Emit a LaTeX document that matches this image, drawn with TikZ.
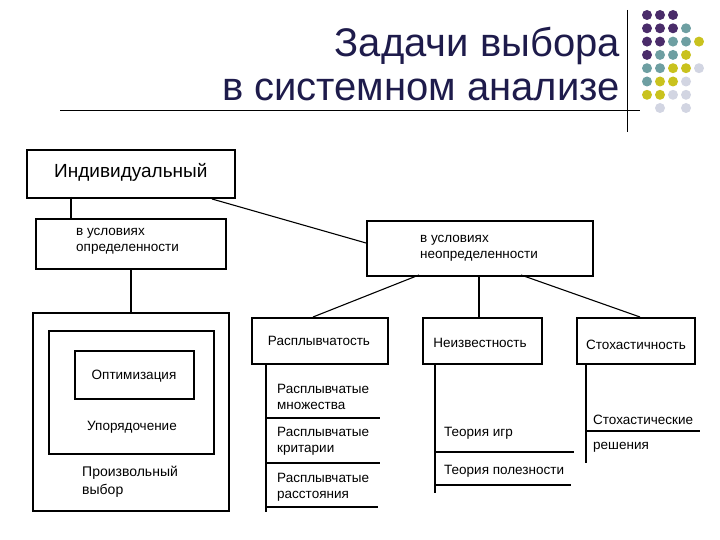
\documentclass[tikz,border=0pt]{standalone}
\usepackage{fontspec}
\setmainfont{Liberation Sans}
\definecolor{dp}{HTML}{4A2C6A}
\definecolor{dt}{HTML}{6E9FA2}
\definecolor{dy}{HTML}{C9C21E}
\definecolor{dl}{HTML}{D2D5E2}
\definecolor{ttl}{HTML}{1E1B4B}
\begin{document}
\begin{tikzpicture}[x=1pt,y=-1pt,
  bx/.style={draw,line width=1.6pt},
  ln/.style={line width=1.1pt},
  lab/.style={font=\fontsize{13.5}{16}\selectfont,anchor=west,align=left,inner sep=0pt},
  bt/.style={font=\fontsize{13.5}{15}\selectfont},
  dot/.style={circle,inner sep=0pt,minimum size=10pt}]
\useasboundingbox (0,0) rectangle (720,540);
% title
\node[anchor=east,align=right,text=ttl,font=\fontsize{40}{44}\selectfont,inner sep=0pt] (title) at (620,64) {Задачи выбора\\в системном анализе};
\draw[line width=0.6pt] (60,110) -- (640,110);
\draw[line width=0.6pt] (627,10) -- (627,132);
% dots
\foreach \r/\cols in {0/{dp,dp,dp},1/{dp,dp,dp,dt},2/{dp,dp,dt,dt,dy},3/{dp,dt,dt,dy},4/{dt,dt,dy,dy,dl},5/{dt,dy,dy,dl},6/{dy,dy,dl,dl}}{
  \foreach \c [count=\i from 0] in \cols {
    \node[dot,fill=\c] (d\r\i) at (647+13*\i,15+13.3*\r) {};
  }}
\node[dot,fill=dl] (d71) at (660,108) {};
\node[dot,fill=dl] (d73) at (686,108) {};
% boxes
\node[bx,line width=2.4pt,minimum width=208pt,minimum height=48pt,anchor=north west] (ind) at (26,149) {};
\node[font=\fontsize{19}{21}\selectfont,anchor=west,inner sep=0pt] (indt) at (54,172) {Индивидуальный};
\node[bx,minimum width=190pt,minimum height=50pt,anchor=north west] (opr) at (35,218) {};
\node[lab] (oprt) at (76,241) {в условиях\\определенности};
\node[bx,minimum width=226pt,minimum height=55pt,anchor=north west] (neo) at (366,220) {};
\node[lab] (neot) at (420,248) {в условиях\\неопределенности};
\node[bx,minimum width=196pt,minimum height=198pt,anchor=north west] (big) at (32,312) {};
\node[bx,minimum width=165pt,minimum height=123pt,anchor=north west] (mid) at (48,330) {};
\node[bx,minimum width=119pt,minimum height=48pt,anchor=north west] (inn) at (74,350) {};
\node[bt] (opt) at (134,376) {Оптимизация};
\node[bt] (upo) at (132,427) {Упорядочение};
\node[lab,font=\fontsize{14}{18}\selectfont] (pro) at (82,482) {Произвольный\\выбор};
\node[bx,minimum width=136pt,minimum height=46pt,anchor=north west] (ras) at (251,317) {};
\node[bt] (rast) at (319,341) {Расплывчатость};
\node[bx,minimum width=119pt,minimum height=46pt,anchor=north west] (nei) at (422,317) {};
\node[bt] (neit) at (480,343) {Неизвестность};
\node[bx,minimum width=118pt,minimum height=46pt,anchor=north west] (sto) at (576,317) {};
\node[bt] (stot) at (636,345) {Стохастичность};
% connectors
\coordinate (a1) at (71,197); \coordinate (a2) at (71,218);
\draw[ln] (a1) -- (a2);
\coordinate (b1) at (212,199); \coordinate (b2) at (366,243);
\draw[ln] (b1) -- (b2);
\coordinate (c1) at (131,268); \coordinate (c2) at (131,312);
\draw[ln] (c1) -- (c2);
\coordinate (e1) at (419,275); \coordinate (e2) at (313,317);
\draw[ln] (e1) -- (e2);
\coordinate (f1) at (479,275); \coordinate (f2) at (479,317);
\draw[ln] (f1) -- (f2);
\coordinate (g1) at (521,275); \coordinate (g2) at (640,317);
\draw[ln] (g1) -- (g2);
% fuzzy column
\coordinate (r0) at (266,363); \coordinate (r1) at (266,512);
\draw[ln] (r0) -- (r1);
\node[lab] (r1t) at (277,397) {Расплывчатые\\множества};
\coordinate (rl1) at (380,418); \draw[ln] (266,418) -- (rl1);
\node[lab] (r2t) at (277,441) {Расплывчатые\\критарии};
\coordinate (rl2) at (380,463); \draw[ln] (266,463) -- (rl2);
\node[lab] (r3t) at (277,487) {Расплывчатые\\расстояния};
\coordinate (rl3) at (378,507); \draw[ln] (266,507) -- (rl3);
% unknown column
\coordinate (n0) at (435,363); \coordinate (n1) at (435,493);
\draw[ln] (n0) -- (n1);
\node[lab] (n1t) at (444,433) {Теория игр};
\coordinate (nl1) at (574,452); \draw[ln] (435,452) -- (nl1);
\node[lab] (n2t) at (444,471) {Теория полезности};
\coordinate (nl2) at (571,485); \draw[ln] (435,485) -- (nl2);
% stochastic column
\coordinate (s0) at (586,363); \coordinate (s1) at (586,463);
\draw[ln] (s0) -- (s1);
\node[lab] (s1t) at (593,420) {Стохастические};
\coordinate (sl1) at (700,431); \draw[ln] (586,431) -- (sl1);
\node[lab] (s2t) at (593,447) {решения};
\end{tikzpicture}
\end{document}
